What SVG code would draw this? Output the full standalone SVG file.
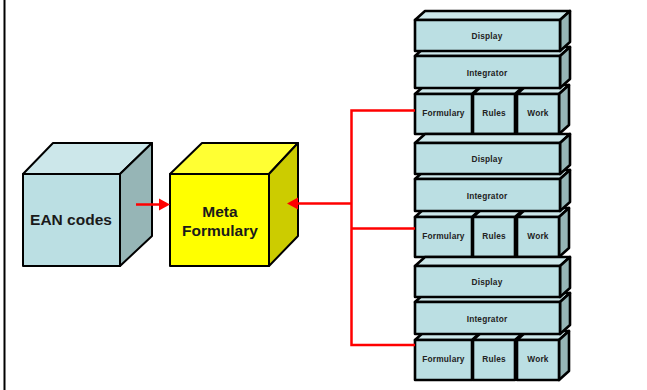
<svg xmlns="http://www.w3.org/2000/svg" width="647" height="390" viewBox="0 0 647 390">
<style>
.cf{fill:#BBDFE3;stroke:#000;stroke-width:2;stroke-linejoin:round}
.ct{fill:#CCE7EA;stroke:#000;stroke-width:2;stroke-linejoin:round}
.cr{fill:#96B5B6;stroke:#000;stroke-width:2;stroke-linejoin:round}
.stack .cf,.stack .ct,.stack .cr{stroke-width:2.6}
.yf{fill:#FFFF00;stroke:#000;stroke-width:2;stroke-linejoin:round}
.yt{fill:#FFFF33;stroke:#000;stroke-width:2;stroke-linejoin:round}
.yr{fill:#CCCC00;stroke:#000;stroke-width:2;stroke-linejoin:round}
.big{font-family:"Liberation Sans",Arial,sans-serif;font-weight:bold;font-size:15.5px;fill:#1a1a1a;text-anchor:middle}
.sm{font-family:"Liberation Sans",Arial,sans-serif;font-weight:bold;font-size:8.3px;fill:#222;text-anchor:middle;letter-spacing:0.2px}
.red{stroke:#FF0000;stroke-width:2.5;fill:none}
.head{fill:#FF0000}
</style>
<line x1="4.5" y1="0" x2="4.5" y2="390" stroke="#000" stroke-width="2"/>

<g id="ean">
<polygon class="ct" points="23,174 53,143 152,143 120,174"/>
<polygon class="cr" points="120,174 152,143 152,236 120,266"/>
<rect class="cf" x="23" y="174" width="97" height="92"/>
<text class="big" x="71" y="225">EAN codes</text>
</g>

<g id="meta">
<polygon class="yt" points="170,174 202,143 298,143 269,174"/>
<polygon class="yr" points="269,174 298,143 298,236 269,266"/>
<rect class="yf" x="170" y="174" width="99" height="92"/>
<text class="big" x="220" y="217">Meta</text>
<text class="big" x="220" y="236">Formulary</text>
</g>

<g id="stack1" class="stack">
<polygon class="ct" points="415,94 425,85 482,85 472,94"/>
<rect class="cf" x="415" y="94" width="57" height="40"/>
<polygon class="ct" points="473,94 483,85 525,85 515,94"/>
<rect class="cf" x="473" y="94" width="42" height="40"/>
<polygon class="ct" points="517,94 527,85 569,85 559,94"/>
<polygon class="cr" points="559,94 569,85 569,125 559,134"/>
<rect class="cf" x="517" y="94" width="42" height="40"/>
<polygon class="ct" points="415,56 425,47 570,47 560,56"/>
<polygon class="cr" points="560,56 570,47 570,79 560,88"/>
<rect class="cf" x="415" y="56" width="145" height="32"/>
<polygon class="ct" points="415,20 425,11 570,11 560,20"/>
<polygon class="cr" points="560,20 570,11 570,42 560,51"/>
<rect class="cf" x="415" y="20" width="145" height="31"/>
<text class="sm" x="487" y="39">Display</text>
<text class="sm" x="487" y="75.5">Integrator</text>
<text class="sm" x="443.5" y="116">Formulary</text>
<text class="sm" x="494" y="116">Rules</text>
<text class="sm" x="538" y="116">Work</text>
</g>

<g id="stack2" class="stack" transform="translate(0,123)">
<polygon class="ct" points="415,94 425,85 482,85 472,94"/>
<rect class="cf" x="415" y="94" width="57" height="40"/>
<polygon class="ct" points="473,94 483,85 525,85 515,94"/>
<rect class="cf" x="473" y="94" width="42" height="40"/>
<polygon class="ct" points="517,94 527,85 569,85 559,94"/>
<polygon class="cr" points="559,94 569,85 569,125 559,134"/>
<rect class="cf" x="517" y="94" width="42" height="40"/>
<polygon class="ct" points="415,56 425,47 570,47 560,56"/>
<polygon class="cr" points="560,56 570,47 570,79 560,88"/>
<rect class="cf" x="415" y="56" width="145" height="32"/>
<polygon class="ct" points="415,20 425,11 570,11 560,20"/>
<polygon class="cr" points="560,20 570,11 570,42 560,51"/>
<rect class="cf" x="415" y="20" width="145" height="31"/>
<text class="sm" x="487" y="39">Display</text>
<text class="sm" x="487" y="75.5">Integrator</text>
<text class="sm" x="443.5" y="116">Formulary</text>
<text class="sm" x="494" y="116">Rules</text>
<text class="sm" x="538" y="116">Work</text>
</g>

<g id="stack3" class="stack" transform="translate(0,246)">
<polygon class="ct" points="415,94 425,85 482,85 472,94"/>
<rect class="cf" x="415" y="94" width="57" height="40"/>
<polygon class="ct" points="473,94 483,85 525,85 515,94"/>
<rect class="cf" x="473" y="94" width="42" height="40"/>
<polygon class="ct" points="517,94 527,85 569,85 559,94"/>
<polygon class="cr" points="559,94 569,85 569,125 559,134"/>
<rect class="cf" x="517" y="94" width="42" height="40"/>
<polygon class="ct" points="415,56 425,47 570,47 560,56"/>
<polygon class="cr" points="560,56 570,47 570,79 560,88"/>
<rect class="cf" x="415" y="56" width="145" height="32"/>
<polygon class="ct" points="415,20 425,11 570,11 560,20"/>
<polygon class="cr" points="560,20 570,11 570,42 560,51"/>
<rect class="cf" x="415" y="20" width="145" height="31"/>
<text class="sm" x="487" y="39">Display</text>
<text class="sm" x="487" y="75.5">Integrator</text>
<text class="sm" x="443.5" y="116">Formulary</text>
<text class="sm" x="494" y="116">Rules</text>
<text class="sm" x="538" y="116">Work</text>
</g>

<g id="connectors">
<line class="red" x1="136" y1="204.5" x2="161" y2="204.5"/>
<polygon class="head" points="159,198.5 170,204.5 159,210.5"/>
<line class="red" x1="296" y1="203.5" x2="351.5" y2="203.5"/>
<polygon class="head" points="298,197.5 287,203.5 298,209.5"/>
<polyline class="red" points="415,110.5 351.5,110.5 351.5,345 415,345"/>
<line class="red" x1="351.5" y1="228.5" x2="415" y2="228.5"/>
</g>
</svg>
